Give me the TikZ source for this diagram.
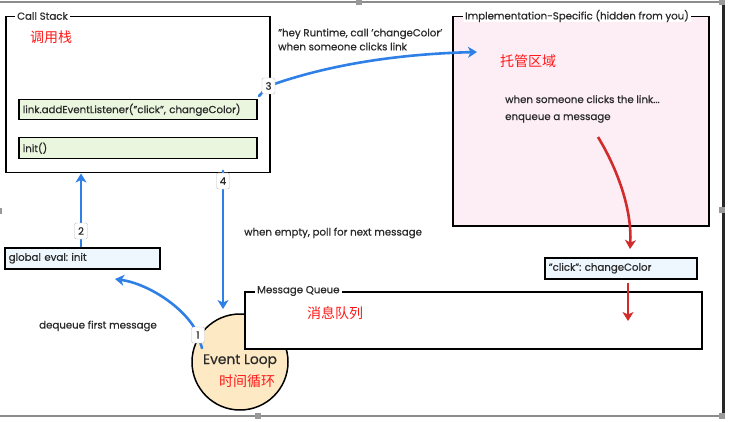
\documentclass[tikz,border=0pt]{standalone}
\usepackage{fontspec}
\setmainfont{Poppins}[FakeBold=0.6]
\newfontfamily\cjk{Noto Sans CJK SC}
\usetikzlibrary{arrows.meta}
\definecolor{cjkred}{HTML}{FF1A1A}
\definecolor{arrowblue}{HTML}{2F80E6}
\definecolor{arrowred}{HTML}{D22B2B}
\definecolor{greenfill}{HTML}{EAF6DE}
\definecolor{bluefill}{HTML}{EEF6FE}
\definecolor{pinkfill}{HTML}{FDEEF5}
\definecolor{peach}{HTML}{FDE9C4}
\definecolor{txt}{HTML}{2A2A2A}
\pgfdeclarelayer{front}
\pgfsetlayers{main,front}
\newcommand\smallfnt{\fontsize{10.2}{12}\selectfont}
\frenchspacing
\begin{document}
\begin{tikzpicture}[x=1pt,y=-1pt,
  container/.style={draw=black, line width=1.5pt, inner sep=0pt, anchor=north west},
  item/.style={draw=black, line width=1.5pt, anchor=north west, inner xsep=4pt, inner ysep=0pt,
    align=left, font=\smallfnt, text=txt},
  grouptitle/.style={anchor=west, fill=white, inner xsep=2pt, inner ysep=0pt, text=txt,
    font=\smallfnt},
  plain/.style={anchor=west, inner sep=0pt, text=txt, font=\smallfnt, align=left},
  zh/.style={anchor=west, inner sep=0pt, text=cjkred, font=\cjk\fontsize{14}{16}\selectfont},
  badge/.style={draw=black!25, fill=white, rounded corners=1.5pt, inner sep=0pt,
    minimum width=13pt, minimum height=16pt, text=txt, font=\smallfnt},
  barrow/.style={draw=arrowblue, line width=2.6pt, -{Stealth[length=9pt,width=11pt,inset=2.5pt]}},
  rarrow/.style={draw=arrowred, line width=2.6pt, -{Stealth[length=9pt,width=11pt,inset=2.5pt]}},
  dotmark/.style={fill=arrowblue},
  handle/.style={fill=black!40},
]
\useasboundingbox (0,0) rectangle (730,422);
% screenshot frame
\draw[black!45, line width=2pt] (0,2) -- (722,2);
\draw[black!45, line width=2pt] (0,416) -- (722,416);
\draw[black!85, line width=3pt] (723.5,0) -- (723.5,418);
\fill[handle] (356,0) rectangle (362,5);
\fill[handle] (719,0) rectangle (725,5);
\fill[handle] (719,207) rectangle (725,213);
\fill[handle] (719,413) rectangle (725,419);
\fill[handle] (255,413) rectangle (261,419);
\fill[handle] (0,208) rectangle (2,214);

% Call stack
\node[container, minimum width=264pt, minimum height=156pt] (cs) at (5,16) {};
\node[grouptitle] (cstitle) at (15,16) {Call Stack};
\node[zh] (cszh) at (30,37) {调用栈};
\node[item, fill=greenfill, minimum height=20pt, text width=230pt] (ael) at (18,99)
  {link.addEventListener("click", changeColor)};
\node[item, fill=greenfill, minimum height=21pt, text width=230pt] (init) at (18,137) {init()};

% Implementation-specific
\node[container, fill=pinkfill, minimum width=256pt, minimum height=209pt] (impl) at (452,16) {};
\node[grouptitle] (impltitle) at (463,16) {Implementation-Specific (hidden from you)};
\node[zh] (implzh) at (500,61) {托管区域};
\node[plain] (impltext) at (505,109) {when someone clicks the link...\\[5pt]enqueue a message};

\node[plain] (hey) at (278,39.5) {"hey Runtime, call 'changeColor'\\[2pt]when someone clicks link};

% click message
\node[item, fill=bluefill, minimum height=21pt, text width=144pt] (click) at (544,257) {"click": changeColor};

% Event loop (drawn before the queue, which overlaps it)
\node[circle, draw=black, line width=1.5pt, fill=peach, minimum size=96pt, inner sep=0pt] (loop) at (240,362) {};
\node[anchor=center, inner sep=0pt, text=txt, font=\fontsize{13.8}{15}\selectfont] (looptxt) at (240,361) {Event Loop};
\node[anchor=center, inner sep=0pt, text=cjkred, font=\cjk\fontsize{14}{16}\selectfont] (loopzh) at (247,381) {时间循环};

% Message queue
\node[container, fill=white, minimum width=457pt, minimum height=57pt] (mq) at (244,291) {};
\node[grouptitle] (mqtitle) at (255,291) {Message Queue};
\node[zh] (mqzh) at (307,313) {消息队列};

\node[plain] (poll) at (244,233) {when empty, poll for next message};

% global eval
\node[item, fill=bluefill, minimum height=21pt, text width=147pt] (ge) at (4,247) {global eval: init};
\node[plain] (deq) at (39,326) {dequeue first message};

% badges (front layer)
\begin{pgfonlayer}{front}
\node[badge] (b3) at (268.5,86) {3};
\node[badge] (b4) at (223,181) {4};
\node[badge] (b2) at (81,231) {2};
\node[badge] (b1) at (198,335) {1};
\end{pgfonlayer}

% connector coordinates
\coordinate (d3) at (259,96);
\coordinate (a3) at (477,52);
\coordinate (d4) at (223,171);
\coordinate (a4) at (223,309);
\coordinate (d1) at (202,348);
\coordinate (a1) at (115,279);
\coordinate (r1s) at (598,137);
\coordinate (r1e) at (630,249);
\coordinate (r2s) at (628,283);
\coordinate (r2e) at (628,321);

% connectors
\draw[barrow] (d3) -- (b3.center) .. controls (330,64) and (400,54) .. (a3);
\fill[dotmark] (d3) circle (1.4pt);
\draw[barrow] (d4) -- (a4);
\fill[dotmark] (d4) circle (1.4pt);
\draw[barrow] (ge.north -| b2) -- (b2.center) -- (b2 |- cs.south);
\draw[barrow] (d1) -- (b1.center) .. controls (188,310) and (150,284) .. (a1);
\fill[dotmark] (d1) circle (1.4pt);
\draw[rarrow] (r1s) .. controls (618,170) and (632,210) .. (r1e);
\draw[rarrow] (r2s) -- (r2e);
\end{tikzpicture}
\end{document}
